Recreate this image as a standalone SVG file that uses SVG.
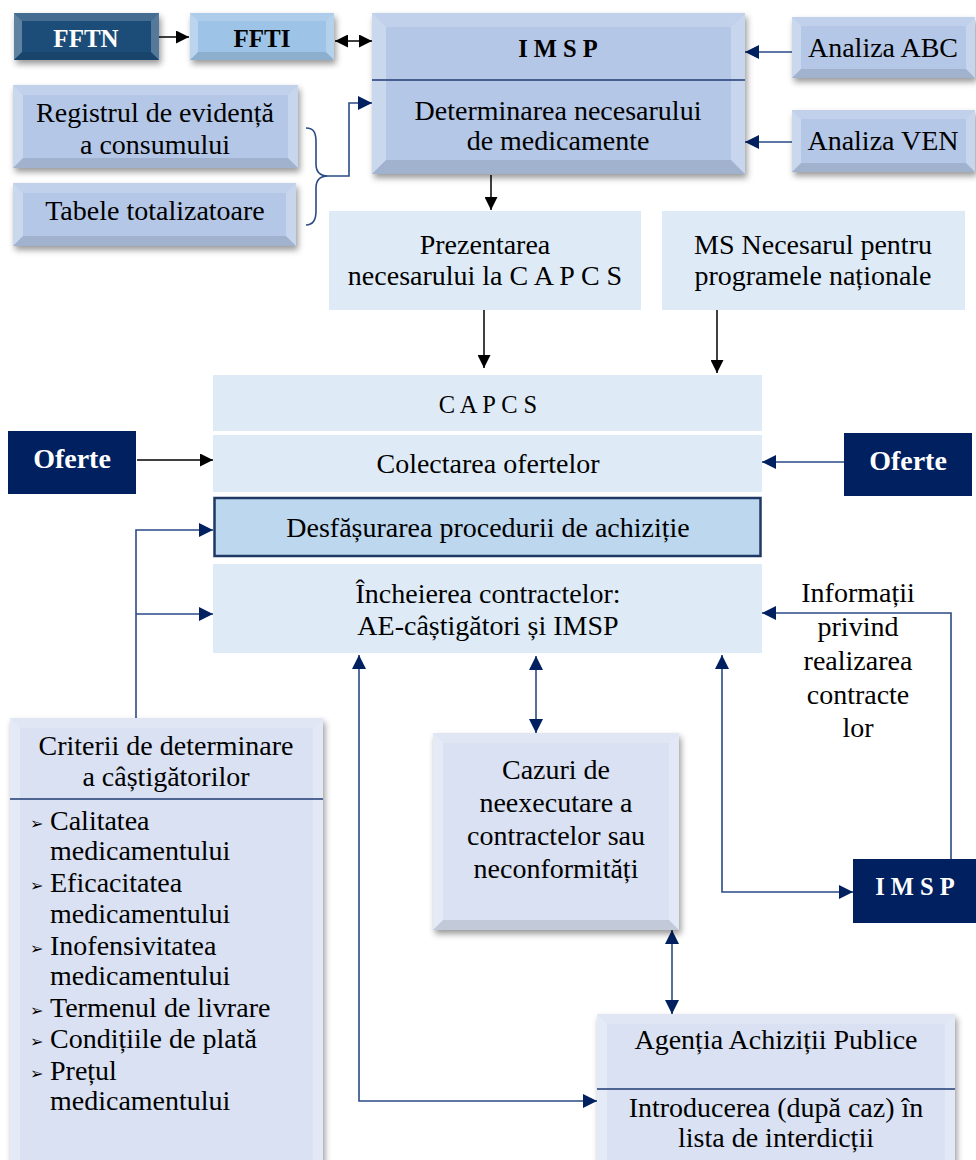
<svg xmlns="http://www.w3.org/2000/svg" width="976" height="1160" viewBox="0 0 976 1160">
<defs>
<style>
text{font-family:"Liberation Serif","Times New Roman",serif;font-size:28px;fill:#000;text-anchor:middle}
.b{font-weight:bold}
.w{fill:#fff}
.sm{font-size:25px}
.sp{font-size:24.5px}
.lt{text-anchor:start}
.bul{font-family:"DejaVu Sans",sans-serif;font-size:16px;text-anchor:start}
.bvl{fill:#fff;opacity:.3}
.bvt{fill:#fff;opacity:.18}
.bvr{fill:#fff;opacity:.25}
.bvb{fill:#000;opacity:.1}
.c1{fill:#b4c7e7}
.c2{fill:#d9e1f2}
.c3{fill:#deebf7}
.nv{fill:#002060}
.div{stroke:#1f3b73;stroke-width:1.5}
.ln{fill:none;stroke:#000;stroke-width:1.5}
.ln2{fill:none;stroke:#2a4a86;stroke-width:1.6}
</style>
<filter id="sh" x="-10%" y="-10%" width="125%" height="130%">
<feDropShadow dx="2" dy="4" stdDeviation="3" flood-color="#000" flood-opacity="0.4"/>
</filter>
<marker id="ak" viewBox="0 0 10 10" refX="10" refY="5" markerWidth="13" markerHeight="13" markerUnits="userSpaceOnUse" orient="auto-start-reverse"><path d="M0,0 L10,5 L0,10 z" fill="#000"/></marker>
<marker id="an" viewBox="0 0 10 10" refX="10" refY="5" markerWidth="14" markerHeight="14" markerUnits="userSpaceOnUse" orient="auto-start-reverse"><path d="M0,0 L10,5 L0,10 z" fill="#002060"/></marker>
</defs>
<rect width="976" height="1160" fill="#fff"/>

<g id="connectors">
<path class="ln" d="M159,37 H189" marker-end="url(#ak)"/>
<path class="ln" d="M335,41 H372" marker-start="url(#ak)" marker-end="url(#ak)"/>
<path class="ln2" d="M306,128 C314,128 316,133 316,142 V164 C316,172 320,176 328,176 C320,176 316,180 316,188 V211 C316,220 313,225 306,225"/>
<path class="ln2" d="M328,176 H349 V103 H372" marker-end="url(#an)"/>
<path class="ln2" d="M792,52 H745" marker-end="url(#an)"/>
<path class="ln2" d="M792,142 H745" marker-end="url(#an)"/>
<path class="ln" d="M491,175 V210" marker-end="url(#ak)"/>
<path class="ln" d="M484,310 V368" marker-end="url(#ak)"/>
<path class="ln" d="M717,310 V373" marker-end="url(#ak)"/>
<path class="ln" d="M137,460 H213" marker-end="url(#ak)"/>
<path class="ln2" d="M844,462 H762" marker-end="url(#an)"/>
<path class="ln2" d="M136,718 V530 H213" marker-end="url(#an)"/>
<path class="ln2" d="M136,614 H213" marker-end="url(#an)"/>
<path class="ln2" d="M597,1101 H359 V655" marker-start="url(#an)" marker-end="url(#an)"/>
<path class="ln2" d="M536,656 V733" marker-start="url(#an)" marker-end="url(#an)"/>
<path class="ln2" d="M672,930 V1014" marker-start="url(#an)" marker-end="url(#an)"/>
<path class="ln2" d="M722,655 V892 H853" marker-start="url(#an)" marker-end="url(#an)"/>
<path class="ln2" d="M951,859 V613 H762" marker-end="url(#an)"/>
</g>

<g id="fftn">
<rect x="14" y="13" width="145" height="47" fill="#1f4e79" filter="url(#sh)"/>
<polygon class="bvl" points="14,13 22,21 22,52 14,60"/>
<polygon class="bvt" points="14,13 159,13 151,21 22,21"/>
<polygon class="bvr" points="159,13 159,60 151,52 151,21"/>
<polygon class="bvb" points="14,60 22,52 151,52 159,60"/>
<text x="86" y="47" class="b w sm">FFTN</text>
</g>

<g id="ffti">
<rect x="190" y="13" width="144" height="47" fill="#9dc3e6" filter="url(#sh)"/>
<polygon class="bvl" points="190,13 198,21 198,52 190,60"/>
<polygon class="bvt" points="190,13 334,13 326,21 198,21"/>
<polygon class="bvr" points="334,13 334,60 326,52 326,21"/>
<polygon class="bvb" points="190,60 198,52 326,52 334,60"/>
<text x="262" y="47" class="b sm">FFTI</text>
</g>

<g id="imsp-top">
<rect x="372" y="13" width="373" height="161" class="c1" filter="url(#sh)"/>
<polygon class="bvl" points="372,13 386,27 386,160 372,174"/>
<polygon class="bvt" points="372,13 745,13 731,27 386,27"/>
<polygon class="bvr" points="745,13 745,174 731,160 731,27"/>
<polygon class="bvb" points="372,174 386,160 731,160 745,174"/>
<line class="div" x1="372" y1="80" x2="745" y2="80"/>
<text x="558" y="57" class="b sp">I M S P</text>
<text x="558" y="120">Determinarea necesarului</text>
<text x="558" y="150">de medicamente</text>
</g>

<g id="analiza-abc">
<rect x="792" y="17" width="183" height="61" class="c1" filter="url(#sh)"/>
<polygon class="bvl" points="792,17 801,26 801,69 792,78"/>
<polygon class="bvt" points="792,17 975,17 966,26 801,26"/>
<polygon class="bvr" points="975,17 975,78 966,69 966,26"/>
<polygon class="bvb" points="792,78 801,69 966,69 975,78"/>
<text x="883" y="57">Analiza ABC</text>
</g>

<g id="analiza-ven">
<rect x="792" y="110" width="183" height="62" class="c1" filter="url(#sh)"/>
<polygon class="bvl" points="792,110 801,119 801,163 792,172"/>
<polygon class="bvt" points="792,110 975,110 966,119 801,119"/>
<polygon class="bvr" points="975,110 975,172 966,163 966,119"/>
<polygon class="bvb" points="792,172 801,163 966,163 975,172"/>
<text x="883" y="150">Analiza VEN</text>
</g>

<g id="registrul">
<rect x="13" y="85" width="285" height="83" class="c1" filter="url(#sh)"/>
<polygon class="bvl" points="13,85 23,95 23,158 13,168"/>
<polygon class="bvt" points="13,85 298,85 288,95 23,95"/>
<polygon class="bvr" points="298,85 298,168 288,158 288,95"/>
<polygon class="bvb" points="13,168 23,158 288,158 298,168"/>
<text x="155" y="122">Registrul de evidență</text>
<text x="155" y="154">a consumului</text>
</g>

<g id="tabele">
<rect x="13" y="183" width="283" height="63" class="c1" filter="url(#sh)"/>
<polygon class="bvl" points="13,183 23,193 23,236 13,246"/>
<polygon class="bvt" points="13,183 296,183 286,193 23,193"/>
<polygon class="bvr" points="296,183 296,246 286,236 286,193"/>
<polygon class="bvb" points="13,246 23,236 286,236 296,246"/>
<text x="155" y="220">Tabele totalizatoare</text>
</g>

<g id="prezentarea">
<rect x="329" y="211" width="312" height="99" class="c3"/>
<text x="485" y="254">Prezentarea</text>
<text x="485" y="285">necesarului la C A P C S</text>
</g>

<g id="ms">
<rect x="662" y="211" width="303" height="99" class="c3"/>
<text x="813" y="254">MS Necesarul pentru</text>
<text x="813" y="285">programele naționale</text>
</g>

<g id="capcs">
<rect x="213" y="375" width="549" height="56" class="c3"/>
<text x="488" y="413" class="sp">C A P C S</text>
</g>

<g id="colectarea">
<rect x="213" y="435" width="549" height="57" class="c3"/>
<text x="488" y="473">Colectarea ofertelor</text>
</g>

<g id="desfasurarea">
<rect x="214.5" y="498" width="546" height="58" fill="#bdd7ee" stroke="#1f3864" stroke-width="2.5"/>
<text x="488" y="537">Desfășurarea procedurii de achiziție</text>
</g>

<g id="incheierea">
<rect x="213" y="564" width="549" height="89" class="c3"/>
<text x="488" y="603">Încheierea contractelor:</text>
<text x="488" y="635">AE-câștigători și IMSP</text>
</g>

<g id="oferte-stanga">
<rect x="8" y="431" width="128" height="63" class="nv"/>
<text x="72" y="468" class="b w">Oferte</text>
</g>

<g id="oferte-dreapta">
<rect x="844" y="433" width="128" height="63" class="nv"/>
<text x="908" y="470" class="b w">Oferte</text>
</g>

<g id="criterii">
<rect x="10" y="718" width="313" height="452" class="c2" filter="url(#sh)"/>
<polygon class="bvl" points="10,718 20,728 20,1160 10,1170"/>
<polygon class="bvt" points="10,718 323,718 313,728 20,728"/>
<polygon class="bvr" points="323,718 323,1170 313,1160 313,728"/>
<line class="div" x1="10" y1="799" x2="323" y2="799"/>
<text x="166" y="755">Criterii de determinare</text>
<text x="166" y="786">a câștigătorilor</text>
<text x="30" y="829" class="bul">➢</text>
<text x="50" y="830" class="lt">Calitatea</text>
<text x="50" y="860" class="lt">medicamentului</text>
<text x="30" y="891" class="bul">➢</text>
<text x="50" y="892" class="lt">Eficacitatea</text>
<text x="50" y="923" class="lt">medicamentului</text>
<text x="30" y="954" class="bul">➢</text>
<text x="50" y="955" class="lt">Inofensivitatea</text>
<text x="50" y="985" class="lt">medicamentului</text>
<text x="30" y="1016" class="bul">➢</text>
<text x="50" y="1017" class="lt">Termenul de livrare</text>
<text x="30" y="1047" class="bul">➢</text>
<text x="50" y="1048" class="lt">Condițiile de plată</text>
<text x="30" y="1079" class="bul">➢</text>
<text x="50" y="1080" class="lt">Prețul</text>
<text x="50" y="1110" class="lt">medicamentului</text>
</g>

<g id="cazuri">
<rect x="433" y="733" width="246" height="197" class="c2" filter="url(#sh)"/>
<polygon class="bvl" points="433,733 443,743 443,920 433,930"/>
<polygon class="bvt" points="433,733 679,733 669,743 443,743"/>
<polygon class="bvr" points="679,733 679,930 669,920 669,743"/>
<polygon class="bvb" points="433,930 443,920 669,920 679,930"/>
<text x="556" y="779">Cazuri de</text>
<text x="556" y="812">neexecutare a</text>
<text x="556" y="845">contractelor sau</text>
<text x="556" y="878">neconformități</text>
</g>

<g id="informatii-label">
<text x="858" y="602">Informații</text>
<text x="858" y="636">privind</text>
<text x="858" y="670">realizarea</text>
<text x="858" y="704">contracte</text>
<text x="858" y="737">lor</text>
</g>

<g id="imsp-jos">
<rect x="853" y="859" width="123" height="64" class="nv"/>
<text x="915" y="895" class="b w sp">I M S P</text>
</g>

<g id="agentia">
<rect x="597" y="1014" width="358" height="160" class="c2" filter="url(#sh)"/>
<polygon class="bvl" points="597,1014 607,1024 607,1164 597,1174"/>
<polygon class="bvt" points="597,1014 955,1014 945,1024 607,1024"/>
<polygon class="bvr" points="955,1014 955,1174 945,1164 945,1024"/>
<line class="div" x1="597" y1="1089" x2="955" y2="1089"/>
<text x="776" y="1049">Agenția Achiziții Publice</text>
<text x="776" y="1117">Introducerea (după caz) în</text>
<text x="776" y="1147">lista de interdicții</text>
</g>
</svg>
